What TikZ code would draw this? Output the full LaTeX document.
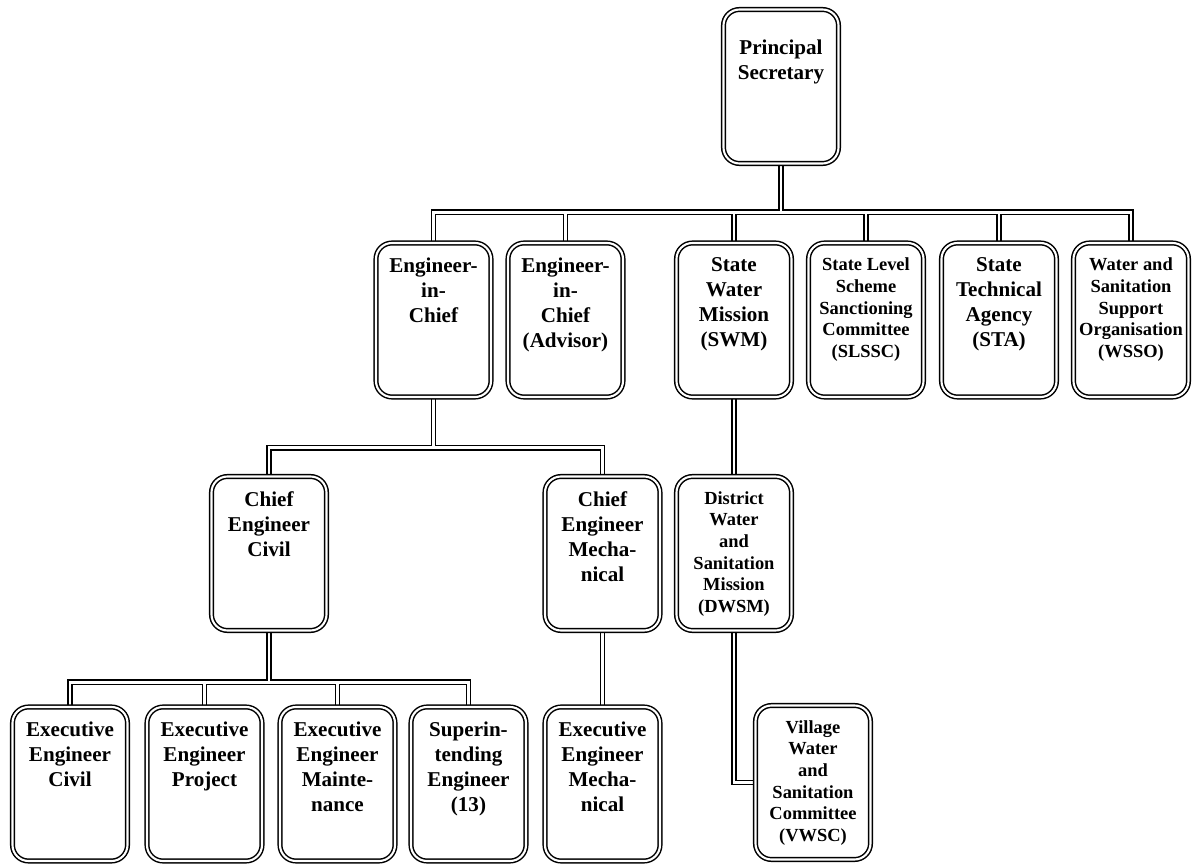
\documentclass[tikz,border=0pt]{standalone}
\usepackage{fontspec}
\setmainfont{Liberation Serif}
\usetikzlibrary{backgrounds}
\tikzstyle{post} = [rectangle, rounded corners=0.32cm, minimum width=2.3cm, minimum height=3.08cm, inner xsep=0.05cm, inner ysep=0.3cm, draw=black, line width=0.85pt, double, double distance=1.2pt, fill=white, font=\bfseries\fontsize{12}{14.2}\selectfont]
\tikzstyle{small} = [font=\bfseries\fontsize{10.5}{12.3}\selectfont]
\tikzstyle{link} = [draw=black, line width=0.85pt, double, double distance=1.6pt]
\newcommand{\cell}[1]{\parbox[t][2.48cm][t]{2.2cm}{\centering #1}}

\begin{document}
\begin{tikzpicture}[node distance=4.67cm]
		\useasboundingbox (-15.62,1.73) rectangle (8.34,-15.57);
		% Nodes
		\node (PS) [post] {\cell{\vspace*{0.3cm}Principal\\Secretary}};
		\node (EiC) [post, below of = PS, xshift = -6.95cm] {\cell{Engineer-\\in-\\Chief}};
		\node (EiCA) [post, below of = PS, xshift = -4.31cm] {\cell{Engineer-\\in-\\Chief\\(Advisor)}};
		\node (SWM) [post, below of = PS, xshift = -0.94cm] {\cell{State\\Water\\Mission\\(SWM)}};
		\node (SLSSC) [post, small, below of = PS, xshift = 1.70cm] {\cell{State Level\\Scheme\\Sanctioning\\Committee\\(SLSSC)}};
		\node (STA) [post, below of = PS, xshift = 4.36cm] {\cell{State\\Technical\\Agency\\(STA)}};
		\node (WSSO) [post, small, below of = PS, xshift = 7.00cm] {\cell{Water and\\Sanitation\\Support\\Organisation\\(WSSO)}};
		\node (CEC) [post, below of = EiC, xshift = -3.29cm] {\cell{Chief\\Engineer\\Civil}};
		\node (CEM) [post, below of = EiC, xshift = 3.38cm] {\cell{Chief\\Engineer\\Mecha-\\nical}};
		\node (DWSM) [post, small, below of = SWM] {\cell{District\\Water\\and\\Sanitation\\Mission\\(DWSM)}};
		\node (ExC) [post, below of = CEC, xshift = -3.98cm, yshift = 0.06cm] {\cell{Executive\\Engineer\\Civil}};
		\node (ExP) [post, below of = CEC, xshift = -1.29cm, yshift = 0.06cm] {\cell{Executive\\Engineer\\Project}};
		\node (ExMt) [post, below of = CEC, xshift = 1.37cm, yshift = 0.06cm] {\cell{Executive\\Engineer\\Mainte-\\nance}};
		\node (SE) [post, below of = CEC, xshift = 3.99cm, yshift = 0.06cm] {\cell{Superin-\\tending\\Engineer\\(13)}};
		\node (ExM) [post, below of = CEM, yshift = 0.06cm] {\cell{Executive\\Engineer\\Mecha-\\nical}};
		\node (VWSC) [post, small, below of = DWSM, xshift = 1.58cm, yshift = 0.09cm] {\cell{Village\\Water\\and\\Sanitation\\Committee\\(VWSC)}};
		% Links
		\begin{scope}[on background layer]
		\draw [link] (PS.south) -- ++(0,-0.96) -| (EiC.north)
			(PS.south) -- ++(0,-0.96) -| (EiCA.north)
			(PS.south) -- ++(0,-0.96) -| (SWM.north)
			(PS.south) -- ++(0,-0.96) -| (SLSSC.north)
			(PS.south) -- ++(0,-0.96) -| (STA.north)
			(PS.south) -- ++(0,-0.96) -| (WSSO.north)
			(EiC.south) -- ++(0,-1.0) -| (CEC.north)
			(EiC.south) -- ++(0,-1.0) -| (CEM.north)
			(CEC.south) -- ++(0,-1.02) -| (ExC.north)
			(CEC.south) -- ++(0,-1.02) -| (ExP.north)
			(CEC.south) -- ++(0,-1.02) -| (ExMt.north)
			(CEC.south) -- ++(0,-1.02) -| (SE.north)
			(CEM.south) -- (ExM.north)
			(SWM.south) -- (DWSM.north)
			(DWSM.south) |- (VWSC.west);
		\end{scope}
	\end{tikzpicture}
\end{document}
